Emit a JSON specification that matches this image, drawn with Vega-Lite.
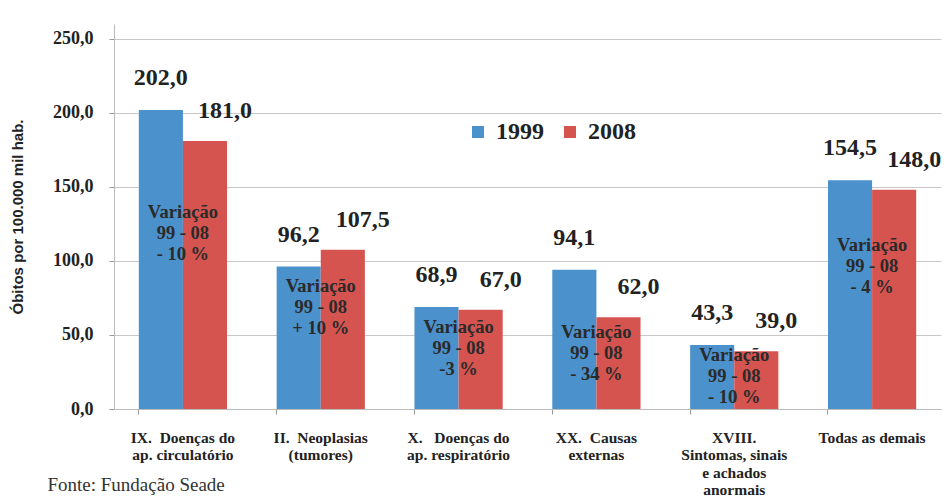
{
  "$schema": "https://vega.github.io/schema/vega-lite/v6.json",
  "width": 947,
  "height": 498,
  "autosize": {"type": "fit", "contains": "padding"},
  "padding": {"left": 10, "right": 6, "top": 24, "bottom": 0},
  "config": {
    "locale": {"number": {"decimal": ",", "thousands": ".", "grouping": [3], "currency": ["R$ ", ""]}},
    "view": {"stroke": null}
  },
  "title": {
    "text": "Fonte: Fundação Seade",
    "orient": "bottom",
    "anchor": "start",
    "frame": "bounds",
    "font": "Liberation Serif",
    "fontSize": 19,
    "fontWeight": "normal",
    "color": "#333333",
    "offset": -22,
    "dx": 37
  },
  "data": {
    "values": [
      {"categoria": "IX.\u00a0 Doenças do|ap. circulatório", "ano": "1999", "valor": 202.0, "variacao": "Variação\n99 - 08\n- 10 %"},
      {"categoria": "IX.\u00a0 Doenças do|ap. circulatório", "ano": "2008", "valor": 181.0, "variacao": "Variação\n99 - 08\n- 10 %"},
      {"categoria": "II.\u00a0 Neoplasias|(tumores)", "ano": "1999", "valor": 96.2, "variacao": "Variação\n99 - 08\n+ 10 %"},
      {"categoria": "II.\u00a0 Neoplasias|(tumores)", "ano": "2008", "valor": 107.5, "variacao": "Variação\n99 - 08\n+ 10 %"},
      {"categoria": "X.\u00a0\u00a0 Doenças do|ap. respiratório", "ano": "1999", "valor": 68.9, "variacao": "Variação\n99 - 08\n-3 %"},
      {"categoria": "X.\u00a0\u00a0 Doenças do|ap. respiratório", "ano": "2008", "valor": 67.0, "variacao": "Variação\n99 - 08\n-3 %"},
      {"categoria": "XX.\u00a0 Causas|externas", "ano": "1999", "valor": 94.1, "variacao": "Variação\n99 - 08\n- 34 %"},
      {"categoria": "XX.\u00a0 Causas|externas", "ano": "2008", "valor": 62.0, "variacao": "Variação\n99 - 08\n- 34 %"},
      {"categoria": "XVIII.|Sintomas, sinais|e achados|anormais", "ano": "1999", "valor": 43.3, "variacao": "Variação\n99 - 08\n- 10 %"},
      {"categoria": "XVIII.|Sintomas, sinais|e achados|anormais", "ano": "2008", "valor": 39.0, "variacao": "Variação\n99 - 08\n- 10 %"},
      {"categoria": "Todas as demais", "ano": "1999", "valor": 154.5, "variacao": "Variação\n99 - 08\n- 4 %"},
      {"categoria": "Todas as demais", "ano": "2008", "valor": 148.0, "variacao": "Variação\n99 - 08\n- 4 %"}
    ]
  },
  "encoding": {
    "x": {
      "field": "categoria",
      "type": "nominal",
      "sort": null,
      "scale": {"paddingInner": 0.36, "paddingOuter": 0.18},
      "axis": {
        "title": null,
        "labelExpr": "split(datum.label, '|')",
        "labelFont": "Liberation Serif",
        "labelFontWeight": "bold",
        "labelFontSize": 15.5,
        "labelColor": "#222222",
        "labelAngle": 0,
        "labelPadding": 16,
        "labelLineHeight": 17.5,
        "labelBaseline": "top",
        "ticks": true,
        "tickSize": 5,
        "bandPosition": 0,
        "domainColor": "#bbbbbb",
        "tickColor": "#999999"
      }
    }
  },
  "layer": [
    {
      "mark": {"type": "bar"},
      "encoding": {
        "xOffset": {"field": "ano", "type": "nominal"},
        "y": {
          "field": "valor",
          "type": "quantitative",
          "scale": {"domain": [0, 250]},
          "axis": {
            "title": "Óbitos por 100.000 mil hab.",
            "titleFont": "Liberation Sans",
            "titleFontWeight": "bold",
            "titleFontSize": 15,
            "titleColor": "#222222",
            "titlePadding": 27,
            "labelFont": "Liberation Serif",
            "labelFontWeight": "bold",
            "labelFontSize": 18,
            "labelColor": "#222222",
            "labelPadding": 16,
            "format": ".1f",
            "values": [0, 50, 100, 150, 200, 250],
            "grid": true,
            "gridColor": "#c8c8c8",
            "domainColor": "#bbbbbb",
            "tickColor": "#999999"
          }
        },
        "color": {
          "field": "ano",
          "type": "nominal",
          "scale": {"domain": ["1999", "2008"], "range": ["#4B91CB", "#D65450"]},
          "legend": {
            "orient": "none",
            "legendX": 352,
            "legendY": 96,
            "direction": "horizontal",
            "title": null,
            "symbolType": "square",
            "symbolSize": 144,
            "labelFont": "Liberation Serif",
            "labelFontWeight": "bold",
            "labelFontSize": 24,
            "labelColor": "#222222",
            "labelOffset": 6,
            "columnPadding": 14
          }
        }
      }
    },
    {
      "transform": [{"filter": "datum.ano == '1999'"}],
      "mark": {"type": "text", "baseline": "bottom", "dy": -20, "font": "Liberation Serif", "fontWeight": "bold", "fontSize": 24, "color": "#222222"},
      "encoding": {
        "xOffset": {"field": "ano", "type": "nominal", "scale": {"domain": ["1999", "2008"]}},
        "y": {"field": "valor", "type": "quantitative"},
        "text": {"field": "valor", "type": "quantitative", "format": ".1f"}
      }
    },
    {
      "transform": [{"filter": "datum.ano == '2008'"}],
      "mark": {"type": "text", "baseline": "bottom", "dx": 20, "dy": -18, "font": "Liberation Serif", "fontWeight": "bold", "fontSize": 24, "color": "#222222"},
      "encoding": {
        "xOffset": {"field": "ano", "type": "nominal", "scale": {"domain": ["1999", "2008"]}},
        "y": {"field": "valor", "type": "quantitative"},
        "text": {"field": "valor", "type": "quantitative", "format": ".1f"}
      }
    },
    {
      "transform": [
        {"filter": "datum.ano == '2008'"},
        {"calculate": "datum.valor * 0.68", "as": "ancora"}
      ],
      "mark": {"type": "text", "baseline": "middle", "lineBreak": "\n", "lineHeight": 21, "font": "Liberation Serif", "fontWeight": "bold", "fontSize": 18.5, "color": "#2a2a2a", "dy": -15},
      "encoding": {
        "y": {"field": "ancora", "type": "quantitative"},
        "text": {"field": "variacao", "type": "nominal"}
      }
    }
  ]
}
